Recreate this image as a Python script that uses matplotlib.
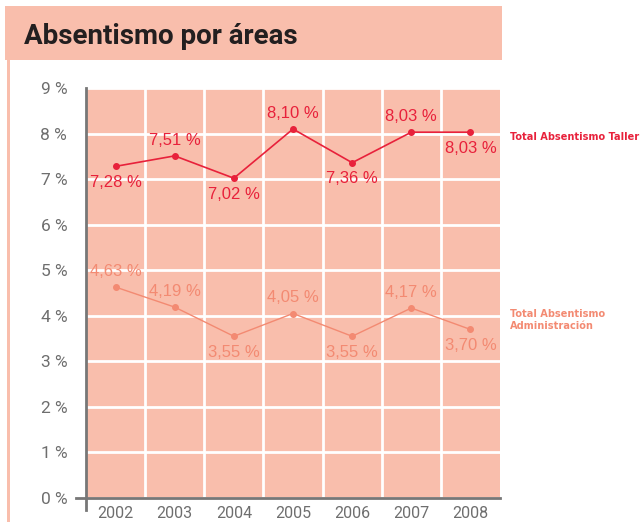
import numpy as np
import matplotlib.pyplot as plt
from matplotlib.patches import Rectangle

# data
years = [2002, 2003, 2004, 2005, 2006, 2007, 2008]
taller = [7.28, 7.51, 7.02, 8.10, 7.36, 8.03, 8.03]
admin = [4.63, 4.19, 3.55, 4.05, 3.55, 4.17, 3.70]
# label placement: 1 = above the point, -1 = below
taller_pos = [-1, 1, -1, 1, -1, 1, -1]
admin_pos = [1, 1, -1, 1, -1, 1, -1]
y_ticks = list(range(0, 10))

RED = '#E8213B'
SALMON = '#F38A72'
BG = '#F9BEAC'
GREY = '#6E6E6E'

narrow = ['DejaVu Sans', 'Roboto']

fig = plt.figure(figsize=(6.43, 5.22), dpi=100)
W, H = 643, 522

# title band and left stripe
fig.patches.append(Rectangle((5 / W, 1 - 60 / H), 497 / W, 54 / H, transform=fig.transFigure,
                             facecolor=BG, edgecolor='none', zorder=0))
fig.patches.append(Rectangle((7 / W, 0), 3 / W, 1 - 60 / H, transform=fig.transFigure,
                             facecolor=BG, edgecolor='none', zorder=0))
fig.text(24 / W, 1 - 37 / H, 'Absentismo por áreas', fontsize=20, fontweight='bold',
         color='#231F20', va='center', ha='left', family=['Roboto', 'DejaVu Sans'])

ax = fig.add_axes([86 / W, 1 - 498 / H, 414 / W, 410 / H])
ax.set_facecolor(BG)
ax.set_xlim(2001.5, 2008.5)
ax.set_ylim(0, 9)

ax.set_yticks(y_ticks)
ax.set_yticklabels([f'{v} %' for v in y_ticks], fontsize=12.5, color=GREY,
                   family=['Roboto', 'DejaVu Sans'])
ax.set_xticks(years)
ax.set_xticklabels([str(y) for y in years], fontsize=11.5, color=GREY,
                   family=['Roboto', 'DejaVu Sans'])
ax.tick_params(axis='y', length=0, pad=13.5)
ax.tick_params(axis='x', length=0, pad=5.5)

# white grid between cells
ax.set_xticks(np.arange(2002.5, 2008, 1), minor=True)
ax.tick_params(which='minor', length=0)
ax.grid(True, which='minor', axis='x', color='white', lw=2)
ax.grid(True, which='major', axis='y', color='white', lw=2)
ax.set_axisbelow(True)

for s in ax.spines.values():
    s.set_visible(False)
ax.plot([-0.025, 1], [0, 0], transform=ax.transAxes, color='#777777', lw=2, clip_on=False)
ax.plot([0, 0], [-0.03, 1], transform=ax.transAxes, color='#777777', lw=2, clip_on=False)

ax.plot(years, taller, color=RED, lw=1.2, marker='o', ms=4)
ax.plot(years, admin, color=SALMON, lw=1, marker='o', ms=4)

for x, v, p in zip(years, taller, taller_pos):
    ax.annotate(f'{v:.2f} %'.replace('.', ','), (x, v), xytext=(0, 6 * p), textcoords='offset points',
                ha='center', va='bottom' if p > 0 else 'top', color=RED, fontsize=12,
                family=['Liberation Sans', 'DejaVu Sans'])
for x, v, p in zip(years, admin, admin_pos):
    ax.annotate(f'{v:.2f} %'.replace('.', ','), (x, v), xytext=(0, 6 * p), textcoords='offset points',
                ha='center', va='bottom' if p > 0 else 'top', color=SALMON, fontsize=12,
                family=['Liberation Sans', 'DejaVu Sans'])

fig.text(510 / W, 1 - 137 / H, 'Total Absentismo Taller', color=RED, fontsize=7.8,
         fontweight='bold', fontstretch='condensed', va='center', ha='left', family=narrow)
fig.text(510 / W, 1 - 320 / H, 'Total Absentismo\nAdministración', color=SALMON, fontsize=7.8,
         fontweight='bold', fontstretch='condensed', va='center', ha='left', family=narrow,
         linespacing=1.3)

fig.savefig('out.png', dpi=100)
